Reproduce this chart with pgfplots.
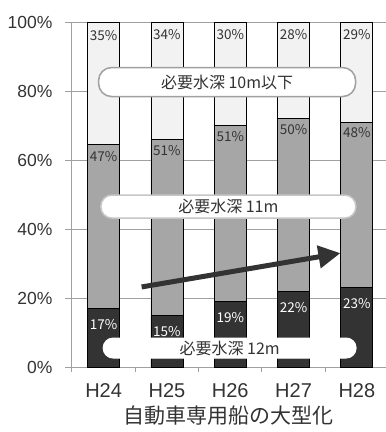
\documentclass[border=0pt]{standalone}
\usepackage{pgfplots}
\pgfplotsset{compat=1.18}
\usepackage{fontspec}
\setmainfont{Liberation Sans}
\newfontfamily\cjk{Noto Sans CJK JP}
\usetikzlibrary{arrows.meta}
\definecolor{dark}{HTML}{333333}
\definecolor{mid}{HTML}{A6A6A6}
\definecolor{light}{HTML}{F2F2F2}
\definecolor{axgray}{HTML}{A0A0A0}
\definecolor{txt}{HTML}{333333}
\begin{document}
\begin{tikzpicture}
\begin{axis}[
 scale only axis, width=314pt, height=345pt,
 ybar stacked, bar width=32pt,
 xmin=-0.5, xmax=4.46, ymin=0, ymax=100,
 axis x line*=bottom, axis y line*=left,
 axis line style={draw=axgray, line width=1pt, -},
 tick align=outside,
 xtick={0,1,2,3,4}, xticklabels={H24,H25,H26,H27,H28},
 major x tick style={draw=none},
 minor xtick={-0.5,0.5,1.5,2.5,3.5},
 minor x tick style={draw=axgray, line width=1pt},
 minor tick length=5pt,
 ytick={0,20,40,60,80,100}, yticklabels={0\%,20\%,40\%,60\%,80\%,100\%},
 major y tick style={draw=axgray, line width=1pt},
 major tick length=7pt,
 ymajorgrids, grid style={draw=axgray, line width=1pt},
 x tick label style={font=\fontsize{20}{20}\selectfont, text=txt, yshift=-6pt},
 y tick label style={font=\fontsize{17.5}{17.5}\selectfont, text=txt, xshift=-9pt},
 xlabel={\cjk 自動車専用船の大型化},
 xlabel style={font=\fontsize{21}{21}\selectfont, text=txt, yshift=-1pt},
 point meta=explicit symbolic,
 nodes near coords={\pgfplotspointmeta\%},
]
\addplot[draw=black, line width=0.8pt, fill=dark, nodes near coords style={font=\cjk\fontsize{13.5}{13.5}\selectfont, text=white, anchor=center, yshift={\pgfplotspointmeta*1.725pt-16pt}}]
 coordinates {(0,17)[17] (1,15)[15] (2,19)[19] (3,22)[22] (4,23)[23]};
\addplot[draw=black, line width=0.8pt, fill=mid, nodes near coords style={font=\cjk\fontsize{13.5}{13.5}\selectfont, text=txt, anchor=center, yshift={\pgfplotspointmeta*1.725pt-11pt}}]
 coordinates {(0,47.5)[47] (1,51)[51] (2,51)[51] (3,50)[50] (4,48)[48]};
\addplot[draw=black, line width=0.8pt, fill=light, nodes near coords style={font=\cjk\fontsize{13.5}{13.5}\selectfont, text=txt, anchor=center, yshift={\pgfplotspointmeta*1.725pt-13pt}}]
 coordinates {(0,35.5)[35] (1,34)[34] (2,30)[30] (3,28)[28] (4,29)[29]};
\coordinate (c1) at (axis cs:1.95,82.6);
\coordinate (c2) at (axis cs:1.97,46.5);
\coordinate (c3) at (axis cs:1.99,5.5);
\coordinate (a0) at (axis cs:0.6,23.2);
\coordinate (a1) at (axis cs:3.74,33);
\end{axis}
\node[draw=axgray, line width=1.5pt, fill=white, rounded corners=13pt, minimum width=257pt, minimum height=29pt, inner sep=0pt, font=\cjk\fontsize{16}{16}\selectfont, text=txt] at (c1) {必要水深 10m以下};
\node[draw=axgray!60, line width=1.5pt, fill=white, rounded corners=11pt, minimum width=255pt, minimum height=23pt, inner sep=0pt, font=\cjk\fontsize{16}{16}\selectfont, text=txt] at (c2) {必要水深 11m};
\node[draw=white, line width=1pt, fill=white, rounded corners=10pt, minimum width=253pt, minimum height=20pt, inner sep=0pt, font=\cjk\fontsize{16}{16}\selectfont, text=txt] at (c3) {必要水深 12m};
\draw[dark, line width=5pt, -{Triangle[length=22pt,width=22pt]}] (a0) -- (a1);
\pgfresetboundingbox
\path (current axis.south west) ++(-72pt,-65pt) rectangle ++(386pt,432pt);
\end{tikzpicture}
\end{document}
